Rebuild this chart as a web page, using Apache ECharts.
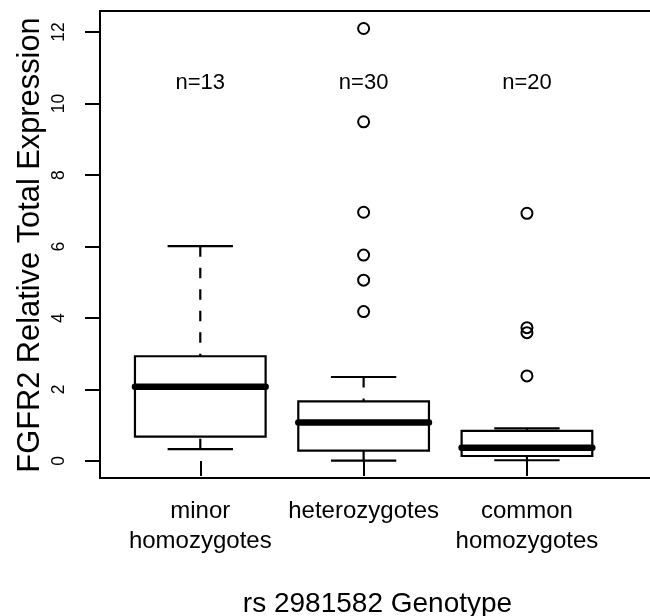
<!DOCTYPE html>
<html>
<head>
<meta charset="utf-8">
<script src="https://cdn.jsdelivr.net/npm/echarts@6/dist/echarts.min.js"></script>
<style>
html, body { margin: 0; padding: 0; background: #fff; }
#main { width: 650px; height: 616px; }
</style>
</head>
<body>
<div id="main"></div>
<script>
var genotypes = ['minor\nhomozygotes', 'heterozygotes', 'common\nhomozygotes'];
var counts = ['n=13', 'n=30', 'n=20'];
// box stats per genotype: lower whisker, Q1, median, Q3, upper whisker
var lowWhisker = [0.33, 0.01, 0.02];
var q1 = [0.68, 0.29, 0.14];
var medians = [2.08, 1.08, 0.37];
var q3 = [2.93, 1.67, 0.84];
var highWhisker = [6.01, 2.35, 0.91];
var outliers = [[], [4.18, 5.06, 5.76, 6.96, 9.49, 12.1], [2.38, 3.59, 3.73, 6.93]];
var yTicks = [0, 2, 4, 6, 8, 10, 12];
var countLabelY = 10.57;

var font = '"Liberation Sans", Arial, Helvetica, sans-serif';

var boxData = genotypes.map(function (g, i) {
    return [i + 1, lowWhisker[i], q1[i], medians[i], q3[i], highWhisker[i]];
});
var outlierData = [];
outliers.forEach(function (list, i) {
    list.forEach(function (v) { outlierData.push([i + 1, v]); });
});
var countData = counts.map(function (c, i) { return { value: [i + 1, countLabelY], name: c }; });

function renderBox(params, api) {
    var x = api.value(0);
    var lo = api.value(1), a = api.value(2), m = api.value(3), b = api.value(4), hi = api.value(5);
    function seg(dx1, v1, dx2, v2, style) {
        var p1 = api.coord([x + dx1, v1]), p2 = api.coord([x + dx2, v2]);
        return { type: 'line', shape: { x1: p1[0], y1: p1[1], x2: p2[0], y2: p2[1] }, style: style };
    }
    var solid = { stroke: '#000', lineWidth: 2.2 };
    var dashed = { stroke: '#000', lineWidth: 2.2, lineDash: [10.5, 11] };
    var tl = api.coord([x - 0.4, b]), br = api.coord([x + 0.4, a]);
    return {
        type: 'group',
        children: [
            seg(0, hi, 0, b, dashed),
            seg(0, lo, 0, a, dashed),
            seg(-0.2, hi, 0.2, hi, solid),
            seg(-0.2, lo, 0.2, lo, solid),
            { type: 'rect', shape: { x: tl[0], y: tl[1], width: br[0] - tl[0], height: br[1] - tl[1] },
              style: { fill: '#fff', stroke: '#000', lineWidth: 2.2 } },
            seg(-0.4, m, 0.4, m, { stroke: '#000', lineWidth: 6.5, lineCap: 'round' })
        ]
    };
}

var chart = echarts.init(document.getElementById('main'));
var option = {
    animation: false,
    backgroundColor: '#fff',
    graphic: [{
        type: 'text',
        x: 31, y: 245,
        rotation: Math.PI / 2,
        style: {
            text: 'FGFR2 Relative Total Expression',
            fontFamily: font, fontSize: 30.8, fill: '#000',
            align: 'center', verticalAlign: 'middle'
        }
    }],
    grid: {
        left: 100, top: 11, width: 555, height: 467,
        outerBoundsMode: 'none',
        show: true, borderColor: '#000', borderWidth: 2, backgroundColor: 'transparent'
    },
    xAxis: {
        type: 'value',
        min: 0.386, max: 3.784,
        name: 'rs 2981582 Genotype',
        nameLocation: 'middle',
        nameGap: 112,
        nameTextStyle: { fontFamily: font, fontSize: 28, color: '#000' },
        axisLine: { show: false },
        splitLine: { show: false },
        axisTick: { show: true, length: 15, customValues: [1, 2, 3], lineStyle: { color: '#000', width: 2 } },
        axisLabel: {
            customValues: [1, 2, 3],
            formatter: function (v) { return genotypes[Math.round(v) - 1]; },
            fontFamily: font, fontSize: 24, lineHeight: 30, color: '#000', margin: 18
        }
    },
    yAxis: {
        type: 'value',
        min: -0.476, max: 12.59,
        axisLine: { show: false },
        splitLine: { show: false },
        axisTick: { show: true, length: 15, customValues: yTicks, lineStyle: { color: '#000', width: 2 } },
        axisLabel: {
            customValues: yTicks,
            rotate: 90,
            fontFamily: font, fontSize: 17.5, color: '#000', margin: 32
        }
    },
    series: [
        {
            type: 'custom',
            renderItem: renderBox,
            data: boxData,
            encode: { x: 0, y: [1, 2, 3, 4, 5] },
            silent: true
        },
        {
            type: 'scatter',
            data: outlierData,
            symbol: 'circle',
            symbolSize: 11,
            itemStyle: { color: 'transparent', borderColor: '#000', borderWidth: 2, opacity: 1 },
            silent: true
        },
        {
            type: 'scatter',
            data: countData,
            symbolSize: 0,
            itemStyle: { opacity: 1 },
            label: {
                show: true, position: 'inside',
                formatter: function (p) { return p.name; },
                fontFamily: font, fontSize: 22, color: '#000'
            },
            silent: true
        }
    ]
};
chart.setOption(option);
</script>
</body>
</html>
